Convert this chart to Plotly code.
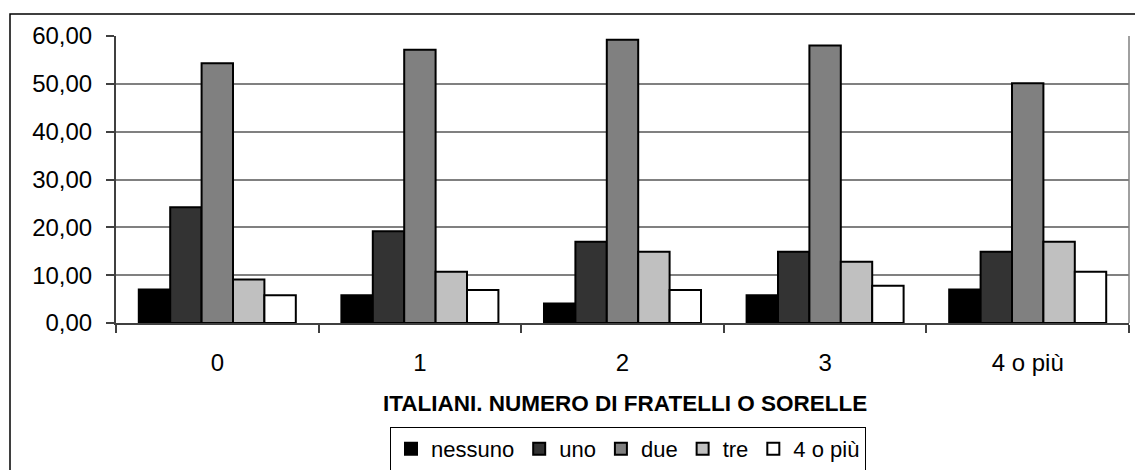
import plotly.graph_objects as go

# Numero di fratelli o sorelle dell'intervistato (categorie sull'asse x)
categories = ["0", "1", "2", "3", "4 o più"]

# Serie: quota percentuale per ciascuna risposta
series_names = ["nessuno", "uno", "due", "tre", "4 o più"]
nessuno = [7.0, 5.8, 4.1, 5.8, 7.0]
uno = [24.2, 19.2, 17.0, 14.9, 14.9]
due = [54.3, 57.1, 59.2, 58.0, 50.1]
tre = [9.1, 10.7, 14.9, 12.8, 17.0]
quattro_o_piu = [5.8, 6.9, 6.9, 7.8, 10.7]

series_values = [nessuno, uno, due, tre, quattro_o_piu]
series_colors = ["#000000", "#333333", "#808080", "#C0C0C0", "#FFFFFF"]

y_ticks = [0, 10, 20, 30, 40, 50, 60]

FONT = "Liberation Sans, Arial, sans-serif"

fig = go.Figure()
for name, vals, col in zip(series_names, series_values, series_colors):
    fig.add_trace(go.Bar(
        name=name,
        x=categories,
        y=vals,
        marker=dict(color=col, line=dict(color="#000000", width=2)),
        hoverinfo="x+y+name",
    ))

W, H = 1135, 470
L, R, T, B = 116, 6, 36, 147
plot_w = W - L - R
plot_h = H - T - B


def px_x(px):
    return (px - L) / plot_w


def px_y(py):
    return (H - B - py) / plot_h


fig.update_layout(
    width=W,
    height=H,
    margin=dict(l=L, r=R, t=T, b=B, autoexpand=False),
    paper_bgcolor="#FFFFFF",
    plot_bgcolor="#FFFFFF",
    barmode="group",
    bargap=0.225,
    bargroupgap=0,
    separators=",.",
    font=dict(family=FONT, size=22, color="#000000"),
    showlegend=True,
    legend=dict(
        orientation="h",
        x=px_x(390),
        xanchor="left",
        y=px_y(427),
        yanchor="top",
        bgcolor="#FFFFFF",
        bordercolor="#000000",
        borderwidth=1,
        font=dict(family=FONT, size=22, color="#000000"),
        traceorder="normal",
        itemwidth=30,
    ),
    xaxis=dict(
        type="category",
        showgrid=False,
        showline=True,
        linecolor="#404040",
        linewidth=2,
        ticks="outside",
        tickson="boundaries",
        ticklen=8,
        tickwidth=1.5,
        tickcolor="#404040",
        ticklabelstandoff=17,
        tickfont=dict(family=FONT, size=24, color="#000000"),
        zeroline=False,
        automargin=False,
    ),
    yaxis=dict(
        range=[0, 60],
        tickvals=y_ticks,
        tickformat=".2f",
        showgrid=True,
        gridcolor="#808080",
        gridwidth=1.5,
        showline=True,
        linecolor="#404040",
        linewidth=2,
        ticks="outside",
        ticklen=8,
        tickwidth=1.5,
        tickcolor="#404040",
        ticklabelstandoff=9,
        tickfont=dict(family=FONT, size=24, color="#000000"),
        zeroline=False,
        automargin=False,
    ),
    annotations=[
        dict(
            text="<b>ITALIANI. NUMERO DI FRATELLI O SORELLE</b>",
            xref="paper", yref="paper",
            x=px_x(625), y=px_y(403),
            xanchor="center", yanchor="middle",
            showarrow=False,
            font=dict(family=FONT, size=22.5, color="#000000"),
        )
    ],
    shapes=[
        # bordo destro dell'area del grafico
        dict(type="line", xref="paper", yref="paper",
             x0=1, x1=1, y0=0, y1=1,
             line=dict(color="#808080", width=1.5)),
        # cornice esterna del grafico
        dict(type="rect", xref="paper", yref="paper",
             x0=px_x(10), x1=px_x(1150), y0=px_y(490), y1=px_y(14),
             line=dict(color="#000000", width=1.5),
             fillcolor="rgba(0,0,0,0)", layer="above"),
    ],
)

fig.write_html("out.html")
